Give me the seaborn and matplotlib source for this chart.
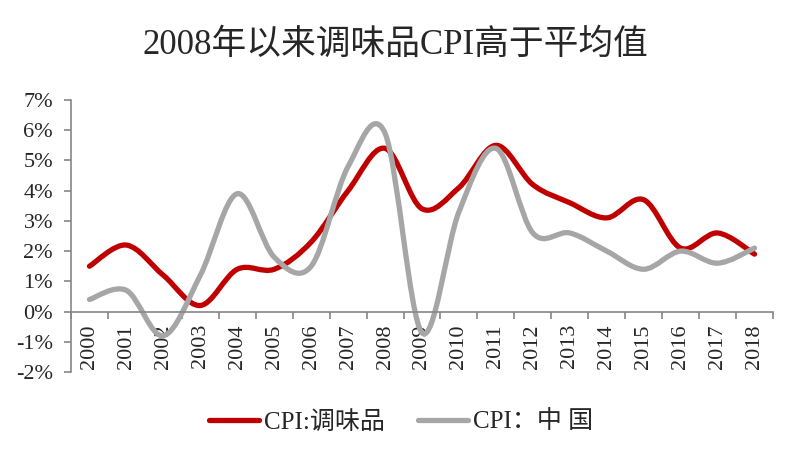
import numpy as np
import pandas as pd
import seaborn as sns
import matplotlib.pyplot as plt
from matplotlib.path import Path
from matplotlib.patches import PathPatch
from matplotlib.lines import Line2D
from matplotlib.ticker import FixedLocator, FixedFormatter, FuncFormatter, NullFormatter

years = [str(y) for y in range(2000, 2019)]
cpi_seasoning = [1.5, 2.2, 1.2, 0.2, 1.4, 1.4, 2.3, 4.0, 5.4, 3.4, 4.1, 5.5, 4.2, 3.6, 3.1, 3.7, 2.1, 2.6, 1.9]
cpi_china = [0.4, 0.7, -0.8, 1.2, 3.9, 1.8, 1.5, 4.8, 5.9, -0.7, 3.3, 5.4, 2.6, 2.6, 2.0, 1.4, 2.0, 1.6, 2.1]
series_names = ['CPI:调味品', 'CPI：中 国']
colors = ['#C00000', '#A6A6A6']
title = '2008年以来调味品CPI高于平均值'

df = pd.DataFrame({'year': years, series_names[0]: cpi_seasoning, series_names[1]: cpi_china})

sns.set_style('white')
plt.rcParams['font.family'] = ['Liberation Serif', 'Noto Sans CJK SC', 'DejaVu Sans']
plt.rcParams['axes.unicode_minus'] = False


def smooth_path(x, y):
    # excel-style smoothed line: cubic bezier through every point
    pts = np.column_stack([x, y]).astype(float)
    padded = np.vstack([pts[0], pts, pts[-1]])
    verts = [pts[0]]
    codes = [Path.MOVETO]
    for i in range(len(pts) - 1):
        p0, p1, p2, p3 = padded[i], padded[i + 1], padded[i + 2], padded[i + 3]
        verts += [p1 + (p2 - p0) / 6, p2 - (p3 - p1) / 6, p2]
        codes += [Path.CURVE4] * 3
    return Path(verts, codes)


fig = plt.figure(figsize=(7.91, 4.51), dpi=100)
ax = fig.add_axes([71 / 791, 1 - 372 / 451, (773 - 71) / 791, (372 - 100) / 451])

xpos = np.arange(len(years))
handles = []
for name, color in zip(series_names, colors):
    patch = PathPatch(smooth_path(xpos, df[name]), fill=False, edgecolor=color,
                      lw=3.8, capstyle='round', joinstyle='round')
    ax.add_patch(patch)
    handles.append(Line2D([], [], color=color, lw=3.8, solid_capstyle='round'))

ax.set_xlim(-0.5, len(years) - 0.5)
ax.set_ylim(-2, 7)
ax.set_yticks(range(-2, 8))
ax.yaxis.set_major_formatter(FuncFormatter(lambda v, p: f'{v:.0f}%'))

# ticks between categories, labels at category centres
ax.xaxis.set_major_locator(FixedLocator(np.arange(-0.5, len(years), 1)))
ax.xaxis.set_major_formatter(NullFormatter())
ax.xaxis.set_minor_locator(FixedLocator(xpos))
ax.xaxis.set_minor_formatter(FixedFormatter(years))

sns.despine(ax=ax)
ax.spines['bottom'].set_position(('data', 0))
for s in ['left', 'bottom']:
    ax.spines[s].set_color('#868686')
    ax.spines[s].set_linewidth(1.2)

ax.tick_params(axis='y', which='major', direction='out', length=5, width=1.2,
               color='#868686', labelsize=16, pad=8, left=True)
ax.tick_params(axis='x', which='major', direction='out', length=5, width=1.2,
               color='#868686', bottom=True)
ax.tick_params(axis='x', which='minor', length=0, labelsize=16, pad=9,
               labelrotation=90)

fig.suptitle(title, fontsize=25, y=1 - 45 / 451, va='center')
fig.legend(handles, series_names, loc='center', bbox_to_anchor=(0.507, 1 - 422 / 451),
           ncol=2, frameon=False, fontsize=18, handlelength=2.0,
           handletextpad=0.2, columnspacing=1.3)

fig.savefig('out.png', dpi=100)
